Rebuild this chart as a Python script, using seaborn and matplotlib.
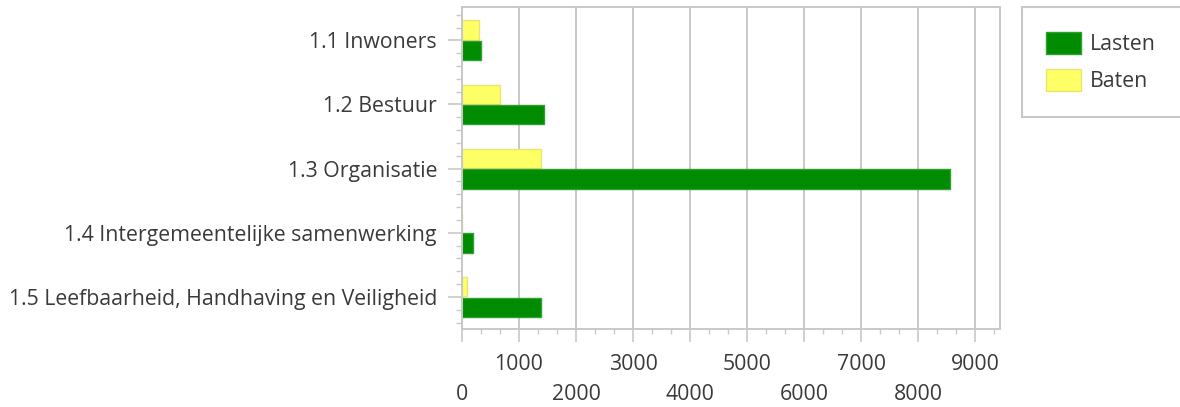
import matplotlib
matplotlib.use("Agg")
import matplotlib.pyplot as plt
from matplotlib.patches import Rectangle
from matplotlib.ticker import MultipleLocator, FixedLocator
import seaborn as sns
import pandas as pd

# Programme components and their budget figures
categories = [
    "1.1 Inwoners",
    "1.2 Bestuur",
    "1.3 Organisatie",
    "1.4 Intergemeentelijke samenwerking",
    "1.5 Leefbaarheid, Handhaving en Veiligheid",
]
baten = [300, 660, 1380, 0, 80]
lasten = [340, 1440, 8550, 190, 1380]
series = ["Baten", "Lasten"]
x_ticks = [0, 1000, 2000, 3000, 4000, 5000, 6000, 7000, 8000, 9000]

df = pd.DataFrame({
    "categorie": categories * 2,
    "reeks": ["Baten"] * len(categories) + ["Lasten"] * len(categories),
    "bedrag": baten + lasten,
})

sns.set_theme(style="white")
plt.rcParams["font.family"] = ["Open Sans", "DejaVu Sans"]

TEXT = "#3a3a3a"
GRID = "#c8c8c8"
FS = 15.3
colors = {"Baten": "#ffff66", "Lasten": "#008c00"}
edges = {"Baten": "#e6e670", "Lasten": "#2f9f2f"}

fig = plt.figure(figsize=(11.8, 4.07), dpi=100)
ax = fig.add_axes([462 / 1180, 78 / 407, 538 / 1180, 322 / 407])

sns.barplot(
    data=df, y="categorie", x="bedrag", hue="reeks",
    order=categories, hue_order=series, palette=colors, saturation=1,
    orient="h", width=0.64, gap=0.06, ax=ax, legend=True,
)
for cont, name in zip(ax.containers, series):
    for bar in cont:
        bar.set_edgecolor(edges[name])
        bar.set_linewidth(1.0)

handles, labels = ax.get_legend_handles_labels()
ax.get_legend().remove()

ax.set_xlim(0, 9430)
ax.set_ylim(4.5, -0.52)
ax.set_xlabel("")
ax.set_ylabel("")

# vertical grid at every thousand
ax.xaxis.set_major_locator(FixedLocator(x_ticks))
ax.xaxis.set_minor_locator(MultipleLocator(1000 / 3))
ax.grid(axis="x", which="major", color=GRID, linewidth=1.4)
ax.set_axisbelow(True)

# staggered value labels: odd thousands on the first row, even on the second
xlabels = [f"{v}" if (v // 1000) % 2 else f"\n{v}" for v in x_ticks]
ax.set_xticklabels(xlabels, fontsize=FS, color=TEXT, linespacing=1.55)
ax.tick_params(axis="x", which="major", length=9, width=1.2, color=GRID,
               pad=9, bottom=True)
ax.tick_params(axis="x", which="minor", length=3.5, width=1.0, color=GRID,
               bottom=True)

ax.yaxis.set_minor_locator(MultipleLocator(0.2))
ax.set_yticks(range(len(categories)))
ax.set_yticklabels(categories, fontsize=FS, color=TEXT)
ax.tick_params(axis="y", which="major", length=10, width=1.2, color=GRID,
               pad=8, left=True)
ax.tick_params(axis="y", which="minor", length=4, width=1.0, color=GRID,
               left=True)

for s in ax.spines.values():
    s.set_visible(True)
    s.set_color(GRID)
    s.set_linewidth(1.4)

# legend panel at the top right
fig.patches.append(Rectangle(
    (1022 / 1180, 1 - 117 / 407), 200 / 1180, 110 / 407,
    transform=fig.transFigure, facecolor="white", edgecolor=GRID,
    linewidth=1.5, zorder=0,
))
for h, name in zip(handles, labels):
    h.set_edgecolor(edges[name])
leg = fig.legend(
    [handles[1], handles[0]], [labels[1], labels[0]],
    loc="upper left", bbox_to_anchor=(1046 / 1180, 1 - 32 / 407),
    frameon=False, fontsize=FS, borderpad=0, borderaxespad=0,
    handlelength=1.65, handleheight=1.25, handletextpad=0.4,
    labelspacing=0.62,
)
for t in leg.get_texts():
    t.set_color(TEXT)

fig.savefig("out.png", dpi=100)
